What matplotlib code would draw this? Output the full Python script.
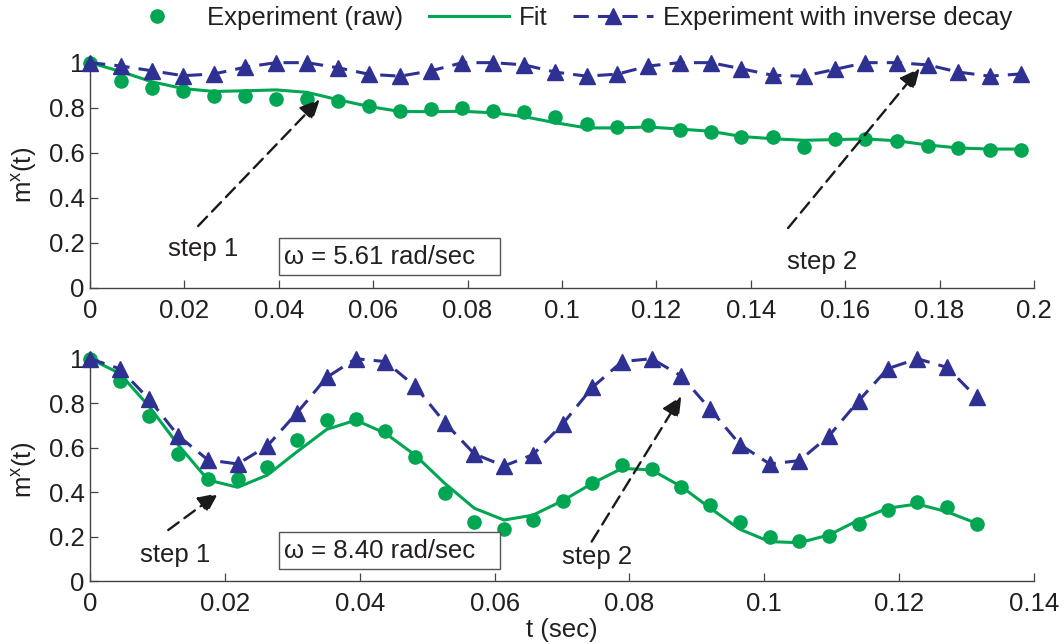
import matplotlib
matplotlib.use("Agg")
import matplotlib.pyplot as plt
from matplotlib.lines import Line2D
from matplotlib.patches import Rectangle

plt.rcParams['font.family'] = ['Liberation Sans', 'DejaVu Sans']
plt.rcParams['font.size'] = 18.5
plt.rcParams['mathtext.default'] = 'regular'

TXT = '#231F20'
GREEN = '#00A651'
NAVY = '#2E3192'

# ---- data ----
t_top = [0, 0.0066, 0.0131, 0.0197, 0.0263, 0.0329, 0.0394, 0.0460, 0.0526, 0.0592,
         0.0657, 0.0723, 0.0789, 0.0854, 0.0920, 0.0986, 0.1052, 0.1117, 0.1183, 0.1249,
         0.1315, 0.1380, 0.1446, 0.1512, 0.1578, 0.1643, 0.1709, 0.1775, 0.1840, 0.1906,
         0.1972]
raw_top = [1.0, 0.92, 0.888, 0.875, 0.853, 0.853, 0.839, 0.839, 0.828, 0.806,
           0.787, 0.794, 0.799, 0.784, 0.779, 0.757, 0.727, 0.714, 0.721, 0.702,
           0.692, 0.670, 0.670, 0.624, 0.661, 0.662, 0.650, 0.628, 0.621, 0.613,
           0.613]
fit_top = [1.0, 0.96, 0.915, 0.885, 0.872, 0.875, 0.879, 0.868, 0.835, 0.805,
           0.783, 0.782, 0.784, 0.777, 0.760, 0.733, 0.710, 0.710, 0.714, 0.705,
           0.695, 0.672, 0.662, 0.655, 0.658, 0.661, 0.653, 0.634, 0.621, 0.616,
           0.616]
inv_top = [1.0, 0.985, 0.964, 0.942, 0.95, 0.98, 1.0, 1.0, 0.977, 0.948,
           0.94, 0.964, 1.0, 1.0, 0.99, 0.958, 0.94, 0.949, 0.985, 1.0,
           1.0, 0.973, 0.944, 0.94, 0.97, 1.0, 1.0, 0.99, 0.958, 0.94,
           0.95]

t_bot = [0, 0.0044, 0.0088, 0.0131, 0.0175, 0.0219, 0.0263, 0.0307, 0.0351, 0.0394,
         0.0438, 0.0482, 0.0526, 0.0570, 0.0614, 0.0657, 0.0701, 0.0745, 0.0789, 0.0833,
         0.0877, 0.0920, 0.0964, 0.1008, 0.1052, 0.1096, 0.1140, 0.1183, 0.1227, 0.1271,
         0.1315]
raw_bot = [1.0, 0.901, 0.742, 0.572, 0.458, 0.458, 0.515, 0.635, 0.724, 0.729,
           0.676, 0.56, 0.398, 0.268, 0.235, 0.275, 0.36, 0.443, 0.522, 0.503,
           0.425, 0.342, 0.268, 0.2, 0.181, 0.203, 0.257, 0.32, 0.355, 0.332,
           0.257]
fit_bot = [1.0, 0.934, 0.784, 0.612, 0.455, 0.422, 0.477, 0.582, 0.682, 0.724,
           0.665, 0.567, 0.44, 0.328, 0.275, 0.297, 0.362, 0.44, 0.507, 0.5,
           0.425, 0.328, 0.233, 0.178, 0.173, 0.208, 0.275, 0.328, 0.347, 0.312,
           0.26]
inv_bot = [1.0, 0.955, 0.817, 0.653, 0.545, 0.527, 0.608, 0.757, 0.916, 1.0,
           0.987, 0.877, 0.713, 0.572, 0.518, 0.569, 0.707, 0.871, 0.987, 1.0,
           0.922, 0.772, 0.614, 0.527, 0.542, 0.653, 0.811, 0.955, 1.0, 0.961,
           0.826]

xticks_top = [0, 0.02, 0.04, 0.06, 0.08, 0.1, 0.12, 0.14, 0.16, 0.18, 0.2]
xticks_bot = [0, 0.02, 0.04, 0.06, 0.08, 0.1, 0.12, 0.14]
yticks = [0, 0.2, 0.4, 0.6, 0.8, 1]

fig = plt.figure(figsize=(10.64, 6.44), dpi=100)
ax1 = fig.add_axes([0.0846, 0.5533, 0.8872, 0.3494])
ax2 = fig.add_axes([0.0846, 0.0975, 0.8872, 0.3455])


def draw_panel(ax, t, raw, fit, inv, xticks):
    ax.plot(t, raw, 'o', color=GREEN, ms=9.5, mec=GREEN, clip_on=False, zorder=3)
    ax.plot(t, fit, '-', color=GREEN, lw=2.2, clip_on=False, zorder=3)
    ax.plot(t, inv, '--', color=NAVY, lw=2.2, dashes=(5, 3), marker='^', ms=12,
            mec=NAVY, clip_on=False, zorder=4)
    ax.set_xlim(xticks[0], xticks[-1])
    ax.set_ylim(0, 1)
    ax.set_xticks(xticks)
    ax.set_xticklabels([('%g' % v) for v in xticks])
    ax.set_yticks(yticks)
    ax.set_yticklabels([('%g' % v) for v in yticks])
    for s in ['top', 'right']:
        ax.spines[s].set_visible(False)
    for s in ['left', 'bottom']:
        ax.spines[s].set_color('#444444')
        ax.spines[s].set_linewidth(1.0)
    ax.tick_params(direction='in', length=6, width=0.9, color='#444444',
                   labelcolor=TXT, pad=8)
    ax.tick_params(axis='y', pad=4)
    ax.set_ylabel('m$^{x}$(t)', color=TXT)
    ax.yaxis.set_label_coords(-0.054, 0.5)


def arrow(ax, tail, head):
    ax.annotate('', xy=head, xytext=tail,
                arrowprops=dict(arrowstyle='-|>,head_length=0.6,head_width=0.28',
                                mutation_scale=20, color='#1a1a1a', lw=1.7,
                                linestyle=(0, (5.5, 3)), shrinkA=0, shrinkB=0),
                zorder=5)


def omega_box(ax, label):
    ax.add_patch(Rectangle((0.2002, 0.055), 0.234, 0.165, transform=ax.transAxes,
                           fc='white', ec='#555555', lw=1.0, zorder=5))
    ax.text(0.206, 0.137, label, transform=ax.transAxes, ha='left', va='center',
            color=TXT, zorder=6)


draw_panel(ax1, t_top, raw_top, fit_top, inv_top, xticks_top)
draw_panel(ax2, t_bot, raw_bot, fit_bot, inv_bot, xticks_bot)

# top panel annotations
arrow(ax1, (0.0229, 0.274), (0.0487, 0.837))
ax1.text(0.0239, 0.172, 'step 1', ha='center', va='center', color=TXT)
arrow(ax1, (0.1479, 0.265), (0.1758, 0.975))
ax1.text(0.155, 0.114, 'step 2', ha='center', va='center', color=TXT)
omega_box(ax1, '\u03c9 = 5.61 rad/sec')

# bottom panel annotations
arrow(ax2, (0.0116, 0.23), (0.019, 0.395))
ax2.text(0.0126, 0.118, 'step 1', ha='center', va='center', color=TXT)
arrow(ax2, (0.0744, 0.178), (0.0877, 0.832))
ax2.text(0.0752, 0.11, 'step 2', ha='center', va='center', color=TXT)
omega_box(ax2, '\u03c9 = 8.40 rad/sec')
ax2.set_xlabel('t (sec)', color=TXT, labelpad=1)

handles = [
    Line2D([], [], ls='none', marker='o', color=GREEN, ms=9.5),
    Line2D([], [], ls='-', color=GREEN, lw=2.2),
    Line2D([], [], ls='--', dashes=(5, 3), color=NAVY, lw=2.2, marker='^', ms=12),
]
labels = ['Experiment (raw)', 'Fit', 'Experiment with inverse decay']
leg = fig.legend(handles, labels, loc='center', bbox_to_anchor=(0.531, 0.972),
                 ncol=3, frameon=False, numpoints=1, handlelength=3.1,
                 handletextpad=0.4, columnspacing=1.0, borderaxespad=0)
for tx in leg.get_texts():
    tx.set_color(TXT)

fig.savefig('out.png', dpi=100)
